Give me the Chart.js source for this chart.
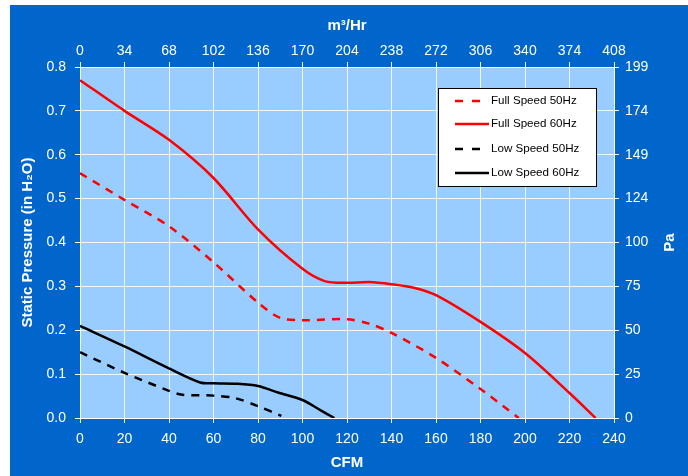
<!DOCTYPE html>
<html>
<head>
<meta charset="utf-8">
<script src="https://cdn.jsdelivr.net/npm/chart.js@4"></script>
<style>
  html, body { margin: 0; padding: 0; background: #fff; }
  #wrap { position: absolute; left: 10px; top: 5px; width: 678px; height: 471px; background: #0066cc; }
</style>
</head>
<body>
<div id="wrap"><canvas id="fanChart" width="678" height="471"></canvas></div>
<script>
// series data (CFM vs in H2O)
var fullSpeed60Cfm = [0, 20, 40, 60, 80, 100, 110, 120, 130, 140, 150, 160, 180, 200, 220, 231.7];
var fullSpeed60Pressure = [0.770, 0.700, 0.634, 0.547, 0.430, 0.340, 0.312, 0.308, 0.310, 0.305, 0.297, 0.280, 0.219, 0.148, 0.057, 0];

var fullSpeed50Cfm = [0, 20, 40, 60, 80, 90, 100, 120, 130, 140, 160, 180, 197.2];
var fullSpeed50Pressure = [0.558, 0.497, 0.437, 0.355, 0.263, 0.228, 0.223, 0.225, 0.215, 0.194, 0.137, 0.066, 0];

var lowSpeed60Cfm = [0, 20, 40, 54, 60, 70, 80, 89, 100, 108, 114.3];
var lowSpeed60Pressure = [0.210, 0.163, 0.113, 0.081, 0.079, 0.078, 0.073, 0.058, 0.041, 0.018, 0];

var lowSpeed50Cfm = [0, 20, 40, 46, 60, 70, 80, 90.5];
var lowSpeed50Pressure = [0.150, 0.103, 0.062, 0.053, 0.051, 0.045, 0.027, 0.005];

// secondary axis tick labels
var m3hrTicks = [0, 34, 68, 102, 136, 170, 204, 238, 272, 306, 340, 374, 408];
var paTicks = [0, 25, 50, 75, 100, 124, 149, 174, 199];

function toPoints(xs, ys) {
    var pts = [];
    for (var i = 0; i < xs.length; i++) {
        pts.push({ x: xs[i], y: ys[i] });
    }
    return pts;
}

// light blue plot area
var plotBackground = {
    id: 'plotBackground',
    beforeDraw: function(chart) {
        var a = chart.chartArea;
        chart.ctx.save();
        chart.ctx.fillStyle = '#99ccff';
        chart.ctx.fillRect(a.left, a.top, a.right - a.left, a.bottom - a.top);
        chart.ctx.restore();
    }
};

// boxed legend inside the plot, plus the right axis title read bottom-to-top
var legendBox = {
    id: 'legendBox',
    afterDatasetsDraw: function(chart) {
        var ctx = chart.ctx;
        var bx = 428, by = 83, bw = 158, bh = 98;
        ctx.save();
        ctx.fillStyle = '#ffffff';
        ctx.fillRect(bx, by, bw, bh);
        ctx.strokeStyle = '#000000';
        ctx.lineWidth = 1;
        ctx.strokeRect(bx + 0.5, by + 0.5, bw, bh);
        var rows = [96, 119, 144, 168];
        chart.data.datasets.forEach(function(ds, i) {
            var y = rows[i];
            ctx.beginPath();
            ctx.strokeStyle = ds.borderColor;
            ctx.lineWidth = 2.5;
            ctx.setLineDash(ds.borderDash && ds.borderDash.length ? [8, 9] : []);
            ctx.moveTo(445, y);
            ctx.lineTo(479, y);
            ctx.stroke();
            ctx.setLineDash([]);
            ctx.fillStyle = '#000000';
            ctx.font = '11.6px "Liberation Sans", Arial, sans-serif';
            ctx.textBaseline = 'middle';
            ctx.fillText(ds.label, 481, y);
        });

        var y2 = chart.scales.y2;
        ctx.translate(660, (y2.top + y2.bottom) / 2);
        ctx.rotate(-Math.PI / 2);
        ctx.fillStyle = '#ffffff';
        ctx.font = 'bold 15px "Liberation Sans", Arial, sans-serif';
        ctx.textAlign = 'center';
        ctx.textBaseline = 'middle';
        ctx.fillText('Pa', 0, 0);
        ctx.restore();
    }
};

var ctx = document.getElementById('fanChart').getContext('2d');
var tickFont = { family: '"Liberation Sans", Arial, sans-serif', size: 14 };
var titleFont = { family: '"Liberation Sans", Arial, sans-serif', size: 15, weight: 'bold' };
var gridWhite = 'rgba(255,255,255,0.85)';

new Chart(ctx, {
    type: 'line',
    data: {
        datasets: [{
            label: 'Full Speed 50Hz',
            data: toPoints(fullSpeed50Cfm, fullSpeed50Pressure),
            borderColor: '#ff0000',
            borderDash: [8, 7],
            borderWidth: 2.5,
            pointRadius: 0,
            tension: 0.3
        }, {
            label: 'Full Speed 60Hz',
            data: toPoints(fullSpeed60Cfm, fullSpeed60Pressure),
            borderColor: '#ff0000',
            borderWidth: 2.5,
            pointRadius: 0,
            tension: 0.3
        }, {
            label: 'Low Speed 50Hz',
            data: toPoints(lowSpeed50Cfm, lowSpeed50Pressure),
            borderColor: '#000000',
            borderDash: [8, 7],
            borderWidth: 2.5,
            pointRadius: 0,
            tension: 0.3
        }, {
            label: 'Low Speed 60Hz',
            data: toPoints(lowSpeed60Cfm, lowSpeed60Pressure),
            borderColor: '#000000',
            borderWidth: 2.5,
            pointRadius: 0,
            tension: 0.3
        }]
    },
    options: {
        responsive: false,
        animation: false,
        layout: { padding: 0 },
        plugins: {
            legend: { display: false },
            tooltip: { enabled: false }
        },
        scales: {
            x: {
                type: 'linear',
                position: 'bottom',
                min: 0, max: 240,
                ticks: { stepSize: 20, color: '#ffffff', font: tickFont, padding: 8 },
                grid: { color: gridWhite, tickColor: '#ffffff', tickLength: 5 },
                border: { color: '#ffffff' },
                title: { display: true, text: 'CFM', color: '#ffffff', font: titleFont, padding: { top: 6 } },
                afterFit: function(s) { s.height = 58; }
            },
            x2: {
                type: 'linear',
                position: 'top',
                min: 0, max: 240,
                ticks: {
                    stepSize: 20, color: '#ffffff', font: tickFont, padding: 2,
                    callback: function(v, i) { return m3hrTicks[i]; }
                },
                grid: { drawOnChartArea: false, tickColor: '#ffffff', tickLength: 5 },
                border: { color: '#ffffff' },
                title: { display: true, text: 'm³/Hr', color: '#ffffff', font: titleFont, padding: { top: 12, bottom: 0 } },
                afterFit: function(s) { s.height = 62; }
            },
            y: {
                type: 'linear',
                position: 'left',
                min: 0, max: 0.8,
                ticks: {
                    stepSize: 0.1, color: '#ffffff', font: tickFont, padding: 9,
                    callback: function(v) { return v.toFixed(1); }
                },
                grid: { color: gridWhite, tickColor: '#ffffff', tickLength: 5 },
                border: { color: '#ffffff' },
                title: { display: true, text: 'Static Pressure (in H₂O)', color: '#ffffff', font: titleFont, padding: { top: 9 } },
                afterFit: function(s) { s.width = 70; }
            },
            y2: {
                type: 'linear',
                position: 'right',
                min: 0, max: 0.8,
                ticks: {
                    stepSize: 0.1, color: '#ffffff', font: tickFont, padding: 6,
                    callback: function(v, i) { return paTicks[i]; }
                },
                grid: { drawOnChartArea: false, tickColor: '#ffffff', tickLength: 5 },
                border: { color: '#ffffff' },
                title: { display: false, text: 'Pa' },
                afterFit: function(s) { s.width = 74; }
            }
        }
    },
    plugins: [plotBackground, legendBox]
});
</script>
</body>
</html>
